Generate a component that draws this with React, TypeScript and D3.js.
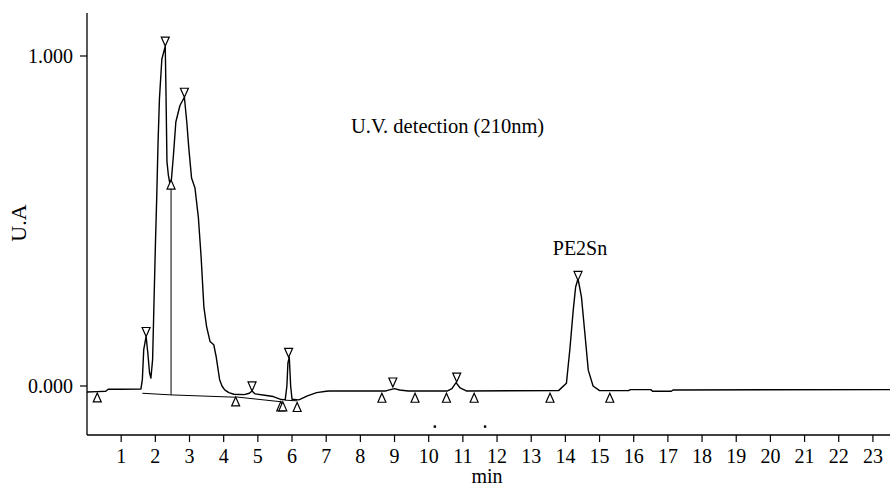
import React from "react";
import * as d3 from "d3";

const W = 890;
const H = 489;

// chromatogram trace: [time (min), absorbance (U.A)]
const traceT = [
  0, 0.3, 0.55, 0.62, 1.0, 1.58, 1.62, 1.66, 1.73, 1.78, 1.83, 1.87, 1.92, 1.96, 2.0, 2.04, 2.08, 2.12, 2.19, 2.29,
  2.31, 2.34, 2.38, 2.43, 2.47, 2.53, 2.6, 2.72, 2.85, 2.92, 2.98, 3.06, 3.16, 3.26, 3.34, 3.42, 3.5, 3.6, 3.71,
  3.78, 3.88, 3.95, 4.03, 4.15, 4.3, 4.6, 4.75, 4.83, 4.92, 5.2, 5.45, 5.65, 5.8, 5.85, 5.88, 5.92, 5.96, 6.0,
  6.2, 6.45, 6.72, 7.0, 7.1, 8.75, 8.88, 9.0, 9.15, 9.4, 10.55, 10.68, 10.8, 10.92, 11.1, 13.8, 14.03, 14.13,
  14.23, 14.3, 14.37, 14.47, 14.57, 14.67, 14.81, 15.0, 15.85, 15.9, 16.5, 16.55, 17.1, 17.15, 23.5,
];
const traceV = [
  -0.018, -0.017, -0.016, -0.010, -0.010, -0.009, 0.02, 0.11, 0.15, 0.10, 0.04, 0.024, 0.08, 0.25, 0.42, 0.57, 0.74,
  0.87, 0.99, 1.03, 0.9, 0.68, 0.64, 0.61, 0.625, 0.70, 0.80, 0.85, 0.875, 0.80, 0.72, 0.63, 0.60, 0.51, 0.39, 0.24,
  0.18, 0.135, 0.125, 0.089, 0.02, 0.0, -0.012, -0.02, -0.025, -0.026, -0.022, -0.015, -0.024, -0.028, -0.032,
  -0.04, -0.042, 0.0, 0.07, 0.087, 0.0, -0.04, -0.042, -0.03, -0.02, -0.016, -0.015, -0.015, -0.011, -0.008,
  -0.012, -0.015, -0.015, -0.008, 0.01, -0.006, -0.015, -0.014, 0.008, 0.11, 0.23, 0.30, 0.325, 0.27, 0.16, 0.048,
  0.0, -0.014, -0.014, -0.011, -0.011, -0.016, -0.016, -0.012, -0.011,
];

// integration baselines
const base1T = [1.62, 2.46, 4.35];
const base1V = [-0.022, -0.027, -0.034];
const base2T = [4.35, 5.7];
const base2V = [-0.033, -0.048];
const base3T = [5.8, 6.15];
const base3V = [-0.043, -0.045];

// perpendicular drop
const dropT = 2.46;
const dropV = [0.62, -0.027];

// peak apex markers (down-pointing)
const apexT = [1.73, 2.29, 2.85, 4.83, 5.9, 8.95, 10.82, 14.37];
const apexV = [0.15, 1.03, 0.875, -0.015, 0.087, -0.003, 0.012, 0.32];

// peak start/end markers (up-pointing)
const limT = [0.3, 2.46, 4.35, 5.67, 5.73, 6.15, 8.63, 9.6, 10.52, 11.33, 13.55, 15.3];
const limV = [-0.021, 0.624, -0.033, -0.048, -0.048, -0.05, -0.022, -0.022, -0.022, -0.022, -0.022, -0.022];

// dots under axis
const dotT = [10.18, 11.65];
const dotV = -0.123;

const xTicks = d3.range(1, 24);
const yTicks = [0, 1];

const FONT = "'Liberation Serif', 'Times New Roman', Times, 'DejaVu Serif', serif";

export default function App() {
  const x = d3.scaleLinear().domain([0, 23.5]).range([87, 890]);
  const y = d3.scaleLinear().domain([-0.1485, 1.1303]).range([435, 13]);
  const line = d3
    .line<[number, number]>()
    .x((d) => x(d[0]))
    .y((d) => y(d[1]));
  const trace = traceT.map((t, i) => [t, traceV[i]] as [number, number]);
  const b1 = base1T.map((t, i) => [t, base1V[i]] as [number, number]);
  const b2 = base2T.map((t, i) => [t, base2V[i]] as [number, number]);
  const b3 = base3T.map((t, i) => [t, base3V[i]] as [number, number]);
  const tw = 4;
  const th = 9;
  const ts = { fontFamily: FONT, fill: "#000" } as React.CSSProperties;

  return (
    <svg
      width={W}
      height={H}
      style={{ position: "absolute", left: 0, top: 0, background: "#fff", fontFamily: FONT }}
    >
      <rect x={0} y={0} width={W} height={H} fill="#fff" />
      {/* axes */}
      <line x1={87} y1={13} x2={87} y2={435} stroke="#000" strokeWidth={1.3} />
      <line x1={87} y1={435} x2={890} y2={435} stroke="#000" strokeWidth={1.3} />
      {yTicks.map((v) => (
        <g key={"y" + v}>
          <line x1={80} x2={87} y1={y(v)} y2={y(v)} stroke="#000" strokeWidth={1.2} />
          <text x={73} y={y(v)} dy="0.34em" textAnchor="end" fontSize={20} style={ts}>
            {v.toFixed(3)}
          </text>
        </g>
      ))}
      {xTicks.map((v) => (
        <g key={"x" + v}>
          <line x1={x(v)} x2={x(v)} y1={435} y2={442} stroke="#000" strokeWidth={1.2} />
          <text x={x(v)} y={463} textAnchor="middle" fontSize={20} style={ts}>
            {v}
          </text>
        </g>
      ))}
      <text x={487} y={483} textAnchor="middle" fontSize={20} style={ts}>
        min
      </text>
      <text transform={`translate(26,223) rotate(-90)`} textAnchor="middle" fontSize={22} style={ts}>
        U.A
      </text>
      <text x={351} y={133} fontSize={20.5} style={ts}>
        U.V. detection (210nm)
      </text>
      <text x={580} y={255} textAnchor="middle" fontSize={20} style={ts}>
        PE2Sn
      </text>

      {/* baselines */}
      <path d={line(b1) || ""} fill="none" stroke="#000" strokeWidth={1} />
      <path d={line(b2) || ""} fill="none" stroke="#000" strokeWidth={1} />
      <path d={line(b3) || ""} fill="none" stroke="#000" strokeWidth={1} />
      <line x1={x(dropT)} x2={x(dropT)} y1={y(dropV[0])} y2={y(dropV[1])} stroke="#000" strokeWidth={1} />
      {/* trace */}
      <path d={line(trace) || ""} fill="none" stroke="#000" strokeWidth={1.4} strokeLinejoin="round" />

      {/* markers */}
      {apexT.map((t, i) => {
        const cx = x(t);
        const cy = y(apexV[i]);
        return (
          <path
            key={"a" + i}
            d={`M${cx},${cy} L${cx - tw},${cy - th} L${cx + tw},${cy - th} Z`}
            fill="#fff"
            stroke="#000"
            strokeWidth={1.2}
          />
        );
      })}
      {limT.map((t, i) => {
        const cx = x(t);
        const cy = y(limV[i]);
        return (
          <path
            key={"l" + i}
            d={`M${cx},${cy} L${cx - tw},${cy + th} L${cx + tw},${cy + th} Z`}
            fill="#fff"
            stroke="#000"
            strokeWidth={1.2}
          />
        );
      })}
      {dotT.map((t, i) => (
        <rect key={"d" + i} x={x(t) - 1.2} y={y(dotV) - 1.2} width={2.4} height={2.4} fill="#000" />
      ))}
    </svg>
  );
}
